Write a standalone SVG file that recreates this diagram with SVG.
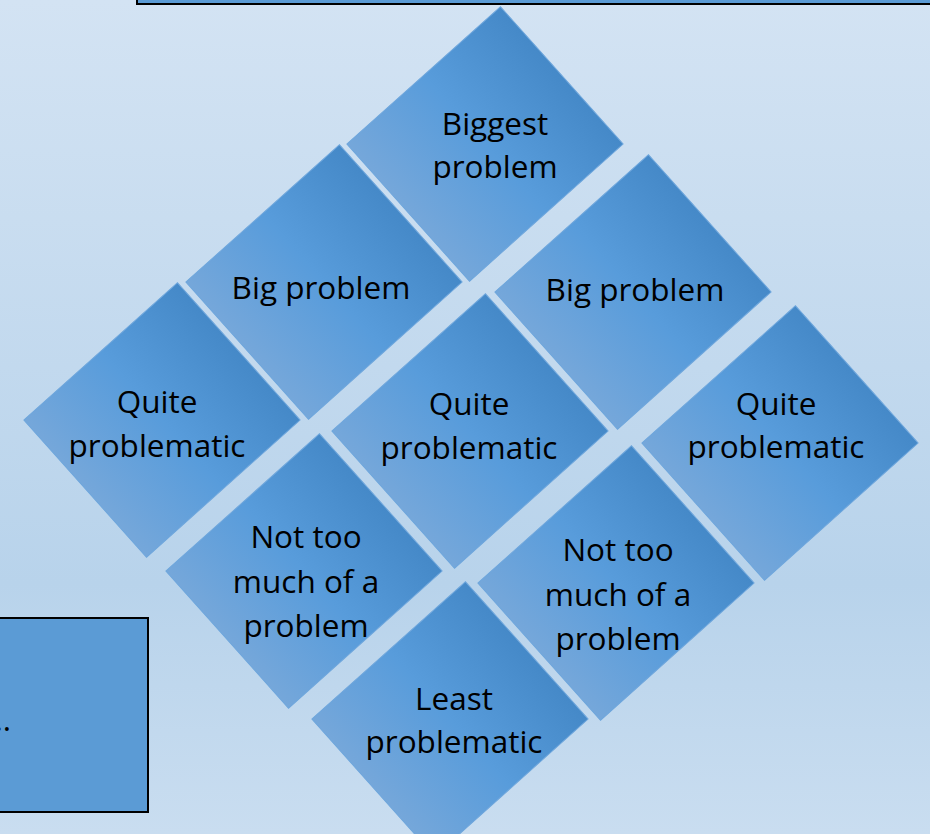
<svg xmlns="http://www.w3.org/2000/svg" width="930" height="834" viewBox="0 0 930 834">
  <defs>
    <linearGradient id="bg" x1="0" y1="0" x2="0" y2="1">
      <stop offset="0" stop-color="#d3e3f3"/>
      <stop offset="0.7" stop-color="#b8d3eb"/>
      <stop offset="1" stop-color="#c9ddf0"/>
    </linearGradient>
    <linearGradient id="dia" x1="0" y1="0" x2="1" y2="0">
      <stop offset="0" stop-color="#75a7da"/>
      <stop offset="0.5" stop-color="#589cdb"/>
      <stop offset="1" stop-color="#4589c8"/>
    </linearGradient>
    <rect id="d" x="-103" y="-92" width="206" height="184"/>
  </defs>
  <style>
    .dia { fill: url(#dia); stroke: #6ea6dc; stroke-width: 1; }
    .box { fill: #5b9bd5; stroke: #000; stroke-width: 2; }
    text { font-family: "Open Sans", "Noto Sans", "Liberation Sans", sans-serif; font-size: 31.5px; fill: #000; text-anchor: middle; }
  </style>
  <rect x="0" y="0" width="930" height="834" fill="url(#bg)"/>

  <g id="top-box">
    <rect class="box" x="137" y="-10" width="800" height="14"/>
  </g>
  <g id="left-box">
    <rect class="box" x="-5" y="618" width="153" height="194"/>
    <text x="11" y="731" style="text-anchor:end">..</text>
  </g>

  <g id="biggest">
    <use href="#d" class="dia" transform="translate(485,144) rotate(-41.8)"/>
    <text x="495" y="135">Biggest</text>
    <text x="495" y="178">problem</text>
  </g>
  <g id="big-left">
    <use href="#d" class="dia" transform="translate(324,282) rotate(-41.8)"/>
    <text x="321" y="299">Big problem</text>
  </g>
  <g id="big-right">
    <use href="#d" class="dia" transform="translate(633,292) rotate(-41.8)"/>
    <text x="635" y="301">Big problem</text>
  </g>
  <g id="quite-left">
    <use href="#d" class="dia" transform="translate(162,420) rotate(-41.8)"/>
    <text x="157" y="413">Quite</text>
    <text x="157" y="457">problematic</text>
  </g>
  <g id="quite-mid">
    <use href="#d" class="dia" transform="translate(470,431) rotate(-41.8)"/>
    <text x="469" y="415">Quite</text>
    <text x="469" y="459">problematic</text>
  </g>
  <g id="quite-right">
    <use href="#d" class="dia" transform="translate(780,443) rotate(-41.8)"/>
    <text x="776" y="415">Quite</text>
    <text x="776" y="458">problematic</text>
  </g>
  <g id="not-too-left">
    <use href="#d" class="dia" transform="translate(304,571) rotate(-41.8)"/>
    <text x="306" y="548">Not too</text>
    <text x="306" y="593">much of a</text>
    <text x="306" y="637">problem</text>
  </g>
  <g id="not-too-right">
    <use href="#d" class="dia" transform="translate(616,583) rotate(-41.8)"/>
    <text x="618" y="561">Not too</text>
    <text x="618" y="606">much of a</text>
    <text x="618" y="650">problem</text>
  </g>
  <g id="least">
    <use href="#d" class="dia" transform="translate(450,719) rotate(-41.8)"/>
    <text x="454" y="710">Least</text>
    <text x="454" y="753">problematic</text>
  </g>
  <g id="connectors"/>
</svg>
